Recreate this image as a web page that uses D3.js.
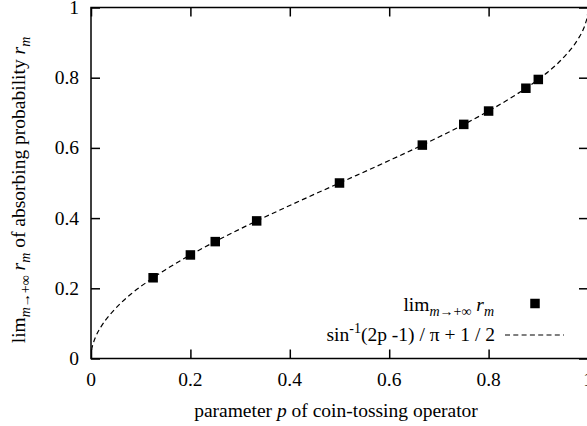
<!DOCTYPE html>
<html>
<head>
<meta charset="utf-8">
<script src="https://cdn.jsdelivr.net/npm/d3@7"></script>
<style>
  html, body { margin: 0; padding: 0; background: #fff; }
  svg { display: block; }
</style>
</head>
<body>
<svg id="chart" width="587" height="426" font-family="'Liberation Serif', 'Times New Roman', Times, 'DejaVu Serif', serif"></svg>
<script>
// ---- data ----
const pointP = [0.125, 0.2, 0.25, 1/3, 0.5, 2/3, 0.75, 0.8, 0.875, 0.9];
const pointR = [0.230, 0.295, 0.333, 0.392, 0.500, 0.608, 0.667, 0.705, 0.770, 0.795];
const curveP = [0, 0.001, 0.005, 0.01, 0.02, 0.03, 0.04, 0.06, 0.08, 0.1, 0.15, 0.2, 0.3, 0.4, 0.5,
                0.6, 0.7, 0.8, 0.85, 0.9, 0.92, 0.94, 0.96, 0.97, 0.98, 0.99, 0.995, 0.999, 1];
const curveR = [0, 0.020, 0.045, 0.064, 0.090, 0.111, 0.128, 0.158, 0.183, 0.205, 0.253, 0.295, 0.369, 0.436, 0.500,
                0.564, 0.631, 0.705, 0.747, 0.795, 0.817, 0.842, 0.872, 0.889, 0.910, 0.936, 0.955, 0.980, 1];
const xTicks = [0, 0.2, 0.4, 0.6, 0.8, 1];
const yTicks = [0, 0.2, 0.4, 0.6, 0.8, 1];
const xTickLabels = ["0", "0.2", "0.4", "0.6", "0.8", "1"];
const yTickLabels = ["0", "0.2", "0.4", "0.6", "0.8", "1"];

// ---- layout ----
const L = 91, R = 588, T = 7.5, B = 358.5;
const FS = 19.5, SUB = 14;
const svg = d3.select("#chart");
const x = d3.scaleLinear().domain([0, 1]).range([L, R]);
const y = d3.scaleLinear().domain([0, 1]).range([B, T]);
const TL = 9;

// ticks (inward on all four sides)
const axB = d3.axisBottom(x).tickValues(xTicks).tickSize(-TL).tickFormat("");
const axT = d3.axisTop(x).tickValues(xTicks).tickSize(-TL).tickFormat("");
const axLf = d3.axisLeft(y).tickValues(yTicks).tickSize(-TL).tickFormat("");
const axRt = d3.axisRight(y).tickValues(yTicks).tickSize(-TL).tickFormat("");
function styleAx(g) {
  g.select(".domain").remove();
  g.selectAll(".tick line").attr("stroke", "#000").attr("stroke-width", 1.5);
}
svg.append("g").attr("transform", `translate(0,${B})`).call(axB).call(styleAx);
svg.append("g").attr("transform", `translate(0,${T})`).call(axT).call(styleAx);
svg.append("g").attr("transform", `translate(${L},0)`).call(axLf).call(styleAx);
svg.append("g").attr("transform", `translate(${R},0)`).call(axRt).call(styleAx);

// tick labels
svg.append("g").selectAll("text").data(xTicks).join("text")
  .attr("x", d => x(d)).attr("y", 386).attr("text-anchor", "middle")
  .attr("font-size", FS).text((d, i) => xTickLabels[i]);
svg.append("g").selectAll("text").data(yTicks).join("text")
  .attr("x", 79).attr("y", d => y(d) + 6.5).attr("text-anchor", "end")
  .attr("font-size", FS).text((d, i) => yTickLabels[i]);

// clip
svg.append("clipPath").attr("id", "clip").append("rect")
  .attr("x", L).attr("y", T).attr("width", R - L).attr("height", B - T);

// curve
const curveData = curveP.map((p, i) => [p, curveR[i]]);
const line = d3.line().x(d => x(d[0])).y(d => y(d[1])).curve(d3.curveMonotoneX);
svg.append("path").attr("clip-path", "url(#clip)")
  .attr("d", line(curveData)).attr("fill", "none")
  .attr("stroke", "#000").attr("stroke-width", 1.2).attr("stroke-dasharray", "5,3.3");

// points
const S = 9.5;
svg.append("g").selectAll("rect").data(pointP.map((p, i) => [p, pointR[i]])).join("rect")
  .attr("x", d => x(d[0]) - S / 2).attr("y", d => y(d[1]) - S / 2)
  .attr("width", S).attr("height", S).attr("fill", "#000");

// frame
svg.append("rect").attr("x", L).attr("y", T).attr("width", R - L).attr("height", B - T)
  .attr("fill", "none").attr("stroke", "#000").attr("stroke-width", 1.5);

// legend
const lg1 = svg.append("text").attr("x", 494).attr("y", 311).attr("text-anchor", "end").attr("font-size", FS);
lg1.append("tspan").text("lim");
lg1.append("tspan").attr("font-size", SUB).attr("dy", 5).html('<tspan font-style="italic">m</tspan>→+∞');
lg1.append("tspan").attr("dy", -5).text(" ");
lg1.append("tspan").attr("font-style", "italic").text("r");
lg1.append("tspan").attr("font-size", SUB).attr("font-style", "italic").attr("dy", 5).text("m");
svg.append("rect").attr("x", 535 - S / 2).attr("y", 303.5 - S / 2).attr("width", S).attr("height", S).attr("fill", "#000");

const lg2 = svg.append("text").attr("x", 495).attr("y", 341).attr("text-anchor", "end").attr("font-size", FS);
lg2.append("tspan").text("sin");
lg2.append("tspan").attr("font-size", SUB).attr("dy", -8).text("-1");
lg2.append("tspan").attr("dy", 8).text("(2p -1) / π + 1 / 2");
svg.append("line").attr("x1", 505).attr("x2", 564).attr("y1", 335).attr("y2", 335)
  .attr("stroke", "#000").attr("stroke-width", 1.2).attr("stroke-dasharray", "5,3.3");

// x title
const xt = svg.append("text").attr("x", 336).attr("y", 417).attr("text-anchor", "middle").attr("font-size", FS);
xt.append("tspan").text("parameter ");
xt.append("tspan").attr("font-style", "italic").text("p");
xt.append("tspan").text(" of coin-tossing operator");

// y title
const yt = svg.append("text").attr("transform", `translate(25,190) rotate(-90)`)
  .attr("text-anchor", "middle").attr("font-size", FS);
yt.append("tspan").text("lim");
yt.append("tspan").attr("font-size", SUB).attr("dy", 5).html('<tspan font-style="italic">m</tspan>→+∞');
yt.append("tspan").attr("dy", -5).text(" ");
yt.append("tspan").attr("font-style", "italic").text("r");
yt.append("tspan").attr("font-size", SUB).attr("font-style", "italic").attr("dy", 5).text("m");
yt.append("tspan").attr("dy", -5).text(" of absorbing probability ");
yt.append("tspan").attr("font-style", "italic").text("r");
yt.append("tspan").attr("font-size", SUB).attr("font-style", "italic").attr("dy", 5).text("m");
</script>
</body>
</html>
